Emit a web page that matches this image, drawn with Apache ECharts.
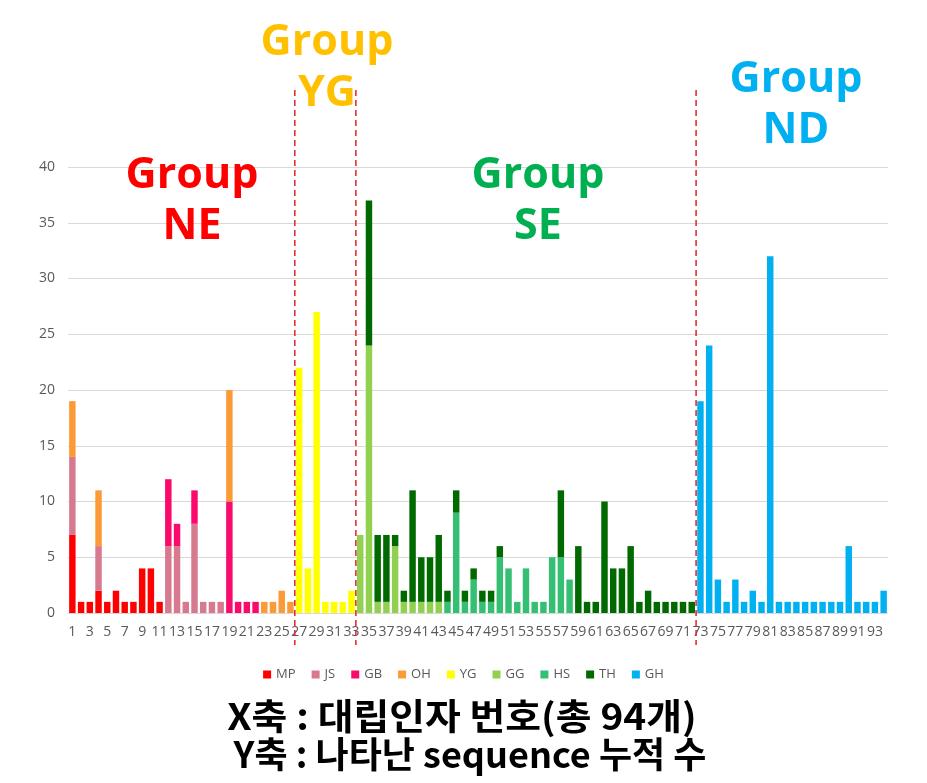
<!DOCTYPE html>
<html><head><meta charset="utf-8">
<script src="https://cdn.jsdelivr.net/npm/echarts@6/dist/echarts.min.js"></script>
<style>html,body{margin:0;padding:0;background:#fff}#c{width:927px;height:783px}</style>
</head><body><div id="c"></div>
<script>
const categories = [
 '1','2','3','4','5','6','7','8','9','10',
 '11','12','13','14','15','16','17','18','19','20',
 '21','22','23','24','25','26','27','28','29','30',
 '31','32','33','34','35','36','37','38','39','40',
 '41','42','43','44','45','46','47','48','49','50',
 '51','52','53','54','55','56','57','58','59','60',
 '61','62','63','64','65','66','67','68','69','70',
 '71','72','73','74','75','76','77','78','79','80',
 '81','82','83','84','85','86','87','88','89','90',
 '91','92','93','94'];
const yTicks = [0,5,10,15,20,25,30,35,40];
const MP = [
 7,1,1,2,1,2,1,1,4,4,
 1,0,0,0,0,0,0,0,0,0,
 0,0,0,0,0,0,0,0,0,0,
 0,0,0,0,0,0,0,0,0,0,
 0,0,0,0,0,0,0,0,0,0,
 0,0,0,0,0,0,0,0,0,0,
 0,0,0,0,0,0,0,0,0,0,
 0,0,0,0,0,0,0,0,0,0,
 0,0,0,0,0,0,0,0,0,0,
 0,0,0,0];
const JS = [
 7,0,0,4,0,0,0,0,0,0,
 0,6,6,1,8,1,1,1,0,0,
 0,0,0,0,0,0,0,0,0,0,
 0,0,0,0,0,0,0,0,0,0,
 0,0,0,0,0,0,0,0,0,0,
 0,0,0,0,0,0,0,0,0,0,
 0,0,0,0,0,0,0,0,0,0,
 0,0,0,0,0,0,0,0,0,0,
 0,0,0,0,0,0,0,0,0,0,
 0,0,0,0];
const GB = [
 0,0,0,0,0,0,0,0,0,0,
 0,6,2,0,3,0,0,0,10,1,
 1,1,0,0,0,0,0,0,0,0,
 0,0,0,0,0,0,0,0,0,0,
 0,0,0,0,0,0,0,0,0,0,
 0,0,0,0,0,0,0,0,0,0,
 0,0,0,0,0,0,0,0,0,0,
 0,0,0,0,0,0,0,0,0,0,
 0,0,0,0,0,0,0,0,0,0,
 0,0,0,0];
const OH = [
 5,0,0,5,0,0,0,0,0,0,
 0,0,0,0,0,0,0,0,10,0,
 0,0,1,1,2,1,0,0,0,0,
 0,0,0,0,0,0,0,0,0,0,
 0,0,0,0,0,0,0,0,0,0,
 0,0,0,0,0,0,0,0,0,0,
 0,0,0,0,0,0,0,0,0,0,
 0,0,0,0,0,0,0,0,0,0,
 0,0,0,0,0,0,0,0,0,0,
 0,0,0,0];
const YG = [
 0,0,0,0,0,0,0,0,0,0,
 0,0,0,0,0,0,0,0,0,0,
 0,0,0,0,0,0,22,4,27,1,
 1,1,2,0,0,0,0,0,0,0,
 0,0,0,0,0,0,0,0,0,0,
 0,0,0,0,0,0,0,0,0,0,
 0,0,0,0,0,0,0,0,0,0,
 0,0,0,0,0,0,0,0,0,0,
 0,0,0,0,0,0,0,0,0,0,
 0,0,0,0];
const GG = [
 0,0,0,0,0,0,0,0,0,0,
 0,0,0,0,0,0,0,0,0,0,
 0,0,0,0,0,0,0,0,0,0,
 0,0,0,7,24,1,1,6,1,1,
 1,1,1,0,0,0,0,0,0,0,
 0,0,0,0,0,0,0,0,0,0,
 0,0,0,0,0,0,0,0,0,0,
 0,0,0,0,0,0,0,0,0,0,
 0,0,0,0,0,0,0,0,0,0,
 0,0,0,0];
const HS = [
 0,0,0,0,0,0,0,0,0,0,
 0,0,0,0,0,0,0,0,0,0,
 0,0,0,0,0,0,0,0,0,0,
 0,0,0,0,0,0,0,0,0,0,
 0,0,0,1,9,1,3,1,1,5,
 4,1,4,1,1,5,5,3,0,0,
 0,0,0,0,0,0,0,0,0,0,
 0,0,0,0,0,0,0,0,0,0,
 0,0,0,0,0,0,0,0,0,0,
 0,0,0,0];
const TH = [
 0,0,0,0,0,0,0,0,0,0,
 0,0,0,0,0,0,0,0,0,0,
 0,0,0,0,0,0,0,0,0,0,
 0,0,0,0,13,6,6,1,1,10,
 4,4,6,1,2,1,1,1,1,1,
 0,0,0,0,0,0,6,0,6,1,
 1,10,4,4,6,1,2,1,1,1,
 1,1,0,0,0,0,0,0,0,0,
 0,0,0,0,0,0,0,0,0,0,
 0,0,0,0];
const GH = [
 0,0,0,0,0,0,0,0,0,0,
 0,0,0,0,0,0,0,0,0,0,
 0,0,0,0,0,0,0,0,0,0,
 0,0,0,0,0,0,0,0,0,0,
 0,0,0,0,0,0,0,0,0,0,
 0,0,0,0,0,0,0,0,0,0,
 0,0,0,0,0,0,0,0,0,0,
 0,0,19,24,3,1,3,1,2,1,
 32,1,1,1,1,1,1,1,1,6,
 1,1,1,2];
const seriesNames = ['MP','JS','GB','OH','YG','GG','HS','TH','GH'];
const seriesData = [MP,JS,GB,OH,YG,GG,HS,TH,GH];
const colors = ['#ff0000','#d77a90','#fa0a6c','#fb9a37','#ffff00','#92d050','#35bf72','#006a00','#00b0f0'];

const chart = echarts.init(document.getElementById('c'));
chart.setOption({
  animation: false,
  backgroundColor: '#ffffff',
  grid: {left: 68, right: 39, top: 167, bottom: 170},
  legend: {
    data: seriesNames, bottom: 97, left: 'center', icon: 'rect',
    itemWidth: 8, itemHeight: 8, itemGap: 16,
    textStyle: {color: '#595959', fontSize: 13, fontFamily: 'Open Sans'}
  },
  xAxis: {
    type: 'category', data: categories,
    axisLine: {lineStyle: {color: '#d9d9d9'}},
    axisTick: {show: false},
    axisLabel: {interval: 1, color: '#595959', fontSize: 14, margin: 12, fontFamily: 'Open Sans'}
  },
  yAxis: {
    type: 'value', min: yTicks[0], max: yTicks[yTicks.length-1], interval: 5,
    axisLine: {show: false}, axisTick: {show: false},
    splitLine: {lineStyle: {color: '#d9d9d9'}},
    axisLabel: {color: '#595959', fontSize: 14, margin: 13, fontFamily: 'Open Sans'}
  },
  series: seriesNames.map((n, i) => ({
    name: n, type: 'bar', stack: 'total', data: seriesData[i],
    itemStyle: {color: colors[i]}, barCategoryGap: '26%'
  }))
});

function midX(a, b) {
  return (chart.convertToPixel({xAxisIndex: 0}, a) + chart.convertToPixel({xAxisIndex: 0}, b)) / 2;
}
const dividers = [['26','27'], ['33','34'], ['72','73']];
const graphics = dividers.map(d => {
  const x = midX(d[0], d[1]);
  return {type: 'line', shape: {x1: x, y1: 90, x2: x, y2: 645},
    style: {stroke: '#e32222', lineWidth: 1.5, lineDash: [6, 4]}, z: 100};
});
const groupFont = 'Open Sans';
const groups = [
  {t: 'Group\nNE', c: '#ff0000', x: 192, y: 201},
  {t: 'Group\nYG', c: '#ffc000', x: 327, y: 68},
  {t: 'Group\nSE', c: '#00b050', x: 538, y: 201},
  {t: 'Group\nND', c: '#00b0f0', x: 796, y: 105}
];
groups.forEach(g => graphics.push({
  type: 'text', x: g.x, y: g.y, z: 110,
  style: {text: g.t, fill: g.c, fontSize: 43, fontWeight: 'bold', fontFamily: groupFont,
    lineHeight: 51, align: 'center', verticalAlign: 'middle'}
}));
graphics.push({type: 'text', x: 462, y: 716, z: 110, scaleX: 1.08, originX: 0, originY: 0,
  style: {text: 'X축 : 대립인자 번호(총 94개)', fill: '#000', fontSize: 36, fontWeight: 'bold',
    fontFamily: 'Noto Sans CJK KR', align: 'center', verticalAlign: 'middle'}});
graphics.push({type: 'text', x: 470, y: 754, z: 110,
  style: {text: 'Y축 : 나타난 sequence 누적 수', fill: '#000', fontSize: 36, fontWeight: 'bold',
    fontFamily: 'Noto Sans CJK KR', align: 'center', verticalAlign: 'middle'}});
chart.setOption({graphic: graphics});
</script>
</body></html>
